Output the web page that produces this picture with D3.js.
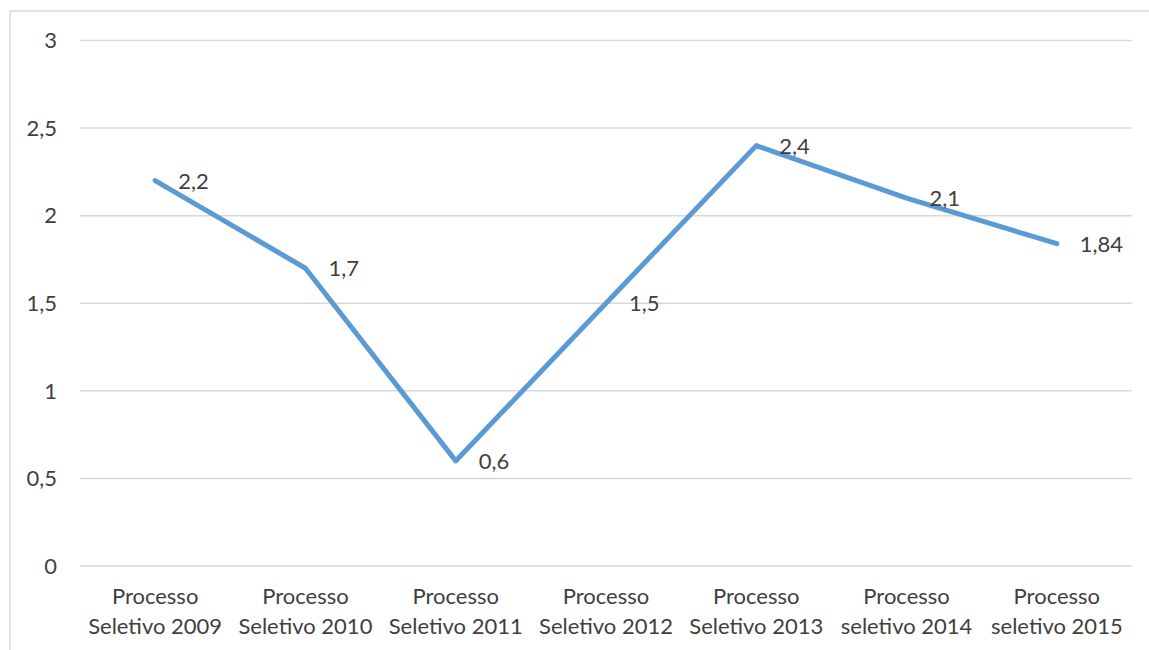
<!DOCTYPE html>
<html>
<head>
<meta charset="utf-8">
<script src="https://cdn.jsdelivr.net/npm/d3@7"></script>
<style>
  html, body { margin: 0; padding: 0; background: #fff; }
  svg { display: block; }
  text { font-family: Lato, "Open Sans", sans-serif; fill: #404040; }
</style>
</head>
<body>
<div id="chart"></div>
<script>
// categorias (eixo x) — duas linhas por rótulo
const categories = [
  ['Processo', 'Seletivo 2009'],
  ['Processo', 'Seletivo 2010'],
  ['Processo', 'Seletivo 2011'],
  ['Processo', 'Seletivo 2012'],
  ['Processo', 'Seletivo 2013'],
  ['Processo', 'seletivo 2014'],
  ['Processo', 'seletivo 2015']
];
const values = [2.2, 1.7, 0.6, 1.5, 2.4, 2.1, 1.84];
const valueLabels = ['2,2', '1,7', '0,6', '1,5', '2,4', '2,1', '1,84'];
const yTicks = [0, 0.5, 1, 1.5, 2, 2.5, 3];
const yTickLabels = ['0', '0,5', '1', '1,5', '2', '2,5', '3'];

const W = 1149, H = 650;
const m = { top: 40.5, right: 17, bottom: 84, left: 80 };
const FS = 22;

const svg = d3.select('#chart').append('svg').attr('width', W).attr('height', H);

// moldura da área do gráfico (corta fora à direita e embaixo)
svg.append('rect').attr('x', 10).attr('y', 11).attr('width', W + 20).attr('height', H + 20)
  .attr('fill', 'none').attr('stroke', '#d9d9d9').attr('stroke-width', 1.5);

const x = d3.scaleBand().domain(d3.range(categories.length))
  .range([m.left, W - m.right]);
const y = d3.scaleLinear().domain([0, 3]).range([H - m.bottom, m.top]);

// linhas de grade horizontais
svg.append('g').selectAll('line').data(yTicks).join('line')
  .attr('x1', m.left).attr('x2', W - m.right)
  .attr('y1', d => y(d)).attr('y2', d => y(d))
  .attr('stroke', '#d9d9d9').attr('stroke-width', 1.5);

// rótulos do eixo y
svg.append('g').selectAll('text').data(yTicks).join('text')
  .attr('x', 57).attr('y', d => y(d)).attr('dy', '0.35em')
  .attr('text-anchor', 'end').attr('font-size', FS)
  .text((d, i) => yTickLabels[i]);

// rótulos do eixo x
const xl = svg.append('g').selectAll('text').data(categories).join('text')
  .attr('text-anchor', 'middle').attr('font-size', FS)
  .attr('x', (d, i) => x(i) + x.bandwidth() / 2);
xl.append('tspan').attr('x', (d, i) => x(i) + x.bandwidth() / 2).attr('y', 604).text(d => d[0]);
xl.append('tspan').attr('x', (d, i) => x(i) + x.bandwidth() / 2).attr('y', 634).text(d => d[1]);

// a linha
const line = d3.line()
  .x((d, i) => x(i) + x.bandwidth() / 2)
  .y(d => y(d));
svg.append('path').datum(values).attr('d', line)
  .attr('fill', 'none').attr('stroke', '#5b9bd5').attr('stroke-width', 5)
  .attr('stroke-linejoin', 'round').attr('stroke-linecap', 'round');

// rótulos de dados, à direita do ponto
svg.append('g').selectAll('text').data(values).join('text')
  .attr('x', (d, i) => x(i) + x.bandwidth() / 2 + 23)
  .attr('y', d => y(d) + 8)
  .attr('font-size', FS)
  .text((d, i) => valueLabels[i]);
</script>
</body>
</html>
